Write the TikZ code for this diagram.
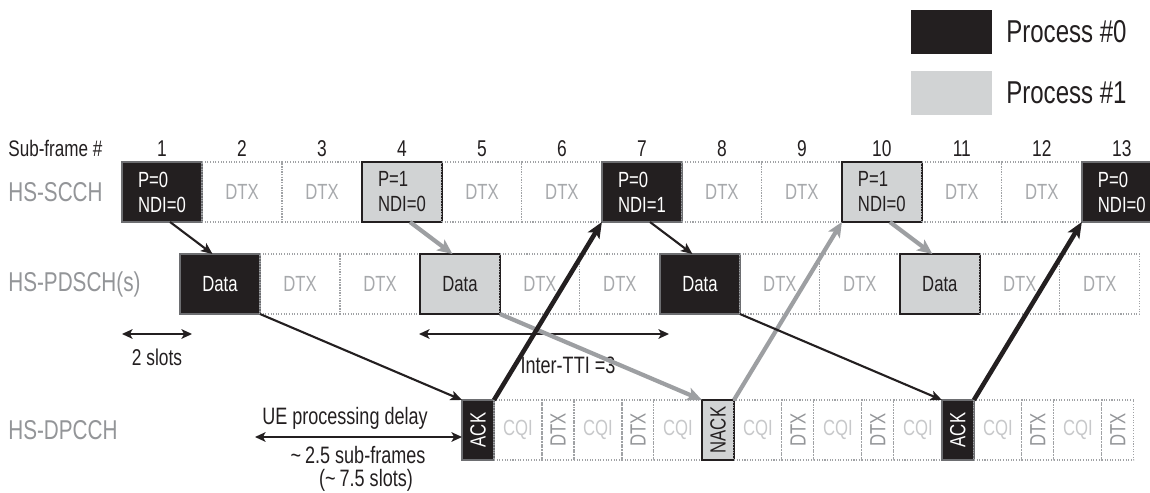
\documentclass[tikz,border=0pt]{standalone}
\usepackage{fontspec}
\setmainfont[FakeStretch=0.76]{Liberation Sans}
\usepackage{tikz}
\usetikzlibrary{arrows.meta, positioning}
\usepackage{xcolor}
\definecolor{pblack}{HTML}{231F20}
\definecolor{pgrey}{HTML}{D1D3D4}
\definecolor{edgegrey}{HTML}{6D6E71}
\definecolor{lblgrey}{HTML}{939598}
\definecolor{dtxgrey}{HTML}{A7A9AC}
\definecolor{cqigrey}{HTML}{C7C8CA}
\definecolor{dotgrey}{HTML}{A0A2A5}
\definecolor{arrowgrey}{HTML}{9D9FA2}

\begin{document}
\begin{tikzpicture}[x=0.02cm, y=-0.02cm, ->, >={Stealth[length=6.5pt, width=5.5pt, inset=1.5pt]}]
    \useasboundingbox (0,0) rectangle (1150,493);
    \tikzstyle{cell} = [rectangle, outer sep=0pt, inner sep=0pt, minimum width=1.6cm, minimum height=1.2cm, font=\fontsize{12.5}{14.2}\selectfont]
    \tikzstyle{dtx} = [cell, draw=dotgrey, line width=0.6pt, dash pattern=on 0.6pt off 0.9pt, text=dtxgrey]
    \tikzstyle{proc0} = [cell, draw=edgegrey, line width=1.2pt, fill=pblack, text=white, align=left]
    \tikzstyle{proc1} = [cell, draw=pblack, line width=1.2pt, fill=pgrey, text=pblack, align=left]
    \tikzstyle{slim} = [minimum width=0.64cm]
    \tikzstyle{cqi} = [dtx, minimum width=0.96cm, text=cqigrey]
    \tikzstyle{udtx} = [dtx, slim, text=lblgrey]
    \tikzstyle{rowlbl} = [anchor=west, inner sep=0pt, text=lblgrey, font=\fontsize{15.5}{18}\selectfont]
    \tikzstyle{num} = [inner sep=0pt, text=pblack, font=\fontsize{13}{15}\selectfont]
    \tikzstyle{note} = [inner sep=0pt, text=pblack, font=\fontsize{13.5}{16}\selectfont]
    \tikzstyle{legbox} = [rectangle, outer sep=0pt, minimum width=1.62cm, minimum height=0.88cm]
    \tikzstyle{legtxt} = [inner sep=0pt, text=pblack, font=\fontsize{18}{21}\selectfont]
    \tikzstyle{blk} = [pblack, line width=1.2pt]
    \tikzstyle{ackline} = [pblack, line width=2.6pt, -{Stealth[length=9pt, width=7.5pt, inset=2pt]}]
    \tikzstyle{gry} = [arrowgrey, line width=2.4pt, -{Stealth[length=8.5pt, width=7.5pt, inset=2pt]}]
    \tikzstyle{measure} = [{Stealth[length=6pt, width=5.5pt, inset=1.5pt]}-{Stealth[length=6pt, width=5.5pt, inset=1.5pt]}, pblack, line width=0.9pt]

    % legend
    \node [legbox, fill=pblack] at (951.5,32) (leg0) {};
    \node [legbox, fill=pgrey] at (951.5,93) (leg1) {};
    \node [legtxt, right=0.28cm of leg0] (leg0t) {Process \#0};
    \node [legtxt, right=0.28cm of leg1] (leg1t) {Process \#1};

    % row labels
    \node [rowlbl, text=pblack, font=\fontsize{12.8}{15}\selectfont] at (8,148) (sfl) {Sub-frame \#};
    \node [rowlbl] at (8,192) (scchl) {HS-SCCH};
    \node [rowlbl] at (8,284) (pdschl) {HS-PDSCH(s)};
    \node [rowlbl] at (8,430) (dpcchl) {HS-DPCCH};

    % HS-SCCH
    \node [proc0] at (162,192) (sc1) {P=0\\NDI=0};
    \node [dtx, right=0pt of sc1] (sc2) {DTX};
    \node [dtx, right=0pt of sc2] (sc3) {DTX};
    \node [proc1, right=0pt of sc3] (sc4) {P=1\\NDI=0};
    \node [dtx, right=0pt of sc4] (sc5) {DTX};
    \node [dtx, right=0pt of sc5] (sc6) {DTX};
    \node [proc0, right=0pt of sc6] (sc7) {P=0\\NDI=1};
    \node [dtx, right=0pt of sc7] (sc8) {DTX};
    \node [dtx, right=0pt of sc8] (sc9) {DTX};
    \node [proc1, right=0pt of sc9] (sc10) {P=1\\NDI=0};
    \node [dtx, right=0pt of sc10] (sc11) {DTX};
    \node [dtx, right=0pt of sc11] (sc12) {DTX};
    \node [proc0, right=0pt of sc12] (sc13) {P=0\\NDI=0};
    \foreach \n in {1,...,13}
        \node [num, above=3pt of sc\n] (num\n) {\n};

    % HS-PDSCH
    \node [proc0] at (220,284) (pd1) {Data};
    \node [dtx, right=0pt of pd1] (pd2) {DTX};
    \node [dtx, right=0pt of pd2] (pd3) {DTX};
    \node [proc1, right=0pt of pd3] (pd4) {Data};
    \node [dtx, right=0pt of pd4] (pd5) {DTX};
    \node [dtx, right=0pt of pd5] (pd6) {DTX};
    \node [proc0, right=0pt of pd6] (pd7) {Data};
    \node [dtx, right=0pt of pd7] (pd8) {DTX};
    \node [dtx, right=0pt of pd8] (pd9) {DTX};
    \node [proc1, right=0pt of pd9] (pd10) {Data};
    \node [dtx, right=0pt of pd10] (pd11) {DTX};
    \node [dtx, right=0pt of pd11] (pd12) {DTX};

    % HS-DPCCH
    \node [proc0, slim] at (478,430) (ack1) {\rotatebox{90}{ACK}};
    \node [cqi, right=0pt of ack1] (cqi1) {CQI};
    \node [udtx, right=0pt of cqi1] (udtx1) {\rotatebox{90}{DTX}};
    \node [cqi, right=0pt of udtx1] (cqi2) {CQI};
    \node [udtx, right=0pt of cqi2] (udtx2) {\rotatebox{90}{DTX}};
    \node [cqi, right=0pt of udtx2] (cqi3) {CQI};
    \node [proc1, slim, right=0pt of cqi3] (nack1) {\rotatebox{90}{NACK}};
    \node [cqi, right=0pt of nack1] (cqi4) {CQI};
    \node [udtx, right=0pt of cqi4] (udtx3) {\rotatebox{90}{DTX}};
    \node [cqi, right=0pt of udtx3] (cqi5) {CQI};
    \node [udtx, right=0pt of cqi5] (udtx4) {\rotatebox{90}{DTX}};
    \node [cqi, right=0pt of udtx4] (cqi6) {CQI};
    \node [proc0, slim, right=0pt of cqi6] (ack2) {\rotatebox{90}{ACK}};
    \node [cqi, right=0pt of ack2] (cqi7) {CQI};
    \node [udtx, right=0pt of cqi7] (udtx5) {\rotatebox{90}{DTX}};
    \node [cqi, right=0pt of udtx5] (cqi8) {CQI};
    \node [udtx, right=0pt of cqi8] (udtx6) {\rotatebox{90}{DTX}};

    % timing marks
    \coordinate (slotl) at (122,334);
    \coordinate (slotr) at (192,334);
    \draw [measure] (slotl) -- (slotr);
    \node [note, font=\fontsize{13}{15}\selectfont] at (157,357) (slotn) {2 slots};
    \coordinate (ttil) at (419,334);
    \coordinate (ttir) at (669,334);
    \draw [measure] (ttil) -- (ttir);
    \node [note] at (568,365) (ttin) {Inter-TTI =3};
    \coordinate (uel) at (255,437);
    \draw [measure] (uel) -- (uel -| ack1.west);
    \node [note] at (345,418) (uen) {UE processing delay};
    \node [note] at (358,455) (uesf) {\textasciitilde\,2.5 sub-frames};
    \node [note] at (366,480) (uesl) {(\textasciitilde\,7.5 slots)};

    % process 1
    \draw [gry] (sc4.-75) -- (pd4.104);
    \draw [gry] (sc10.-75) -- (pd10.104);
    \draw [gry] (pd4.south east) -- (nack1.north west);
    \draw [gry] (nack1.north east) -- (sc10.south west);
    % process 0
    \draw [blk] (sc1.-75) -- (pd1.104);
    \draw [blk] (sc7.-75) -- (pd7.104);
    \draw [blk] (pd1.south east) -- (ack1.north west);
    \draw [blk] (pd7.south east) -- (ack2.north west);
    \draw [ackline] (ack1.north east) -- (sc7.south west);
    \draw [ackline] (ack2.north east) -- (sc13.south west);
\end{tikzpicture}
\end{document}
